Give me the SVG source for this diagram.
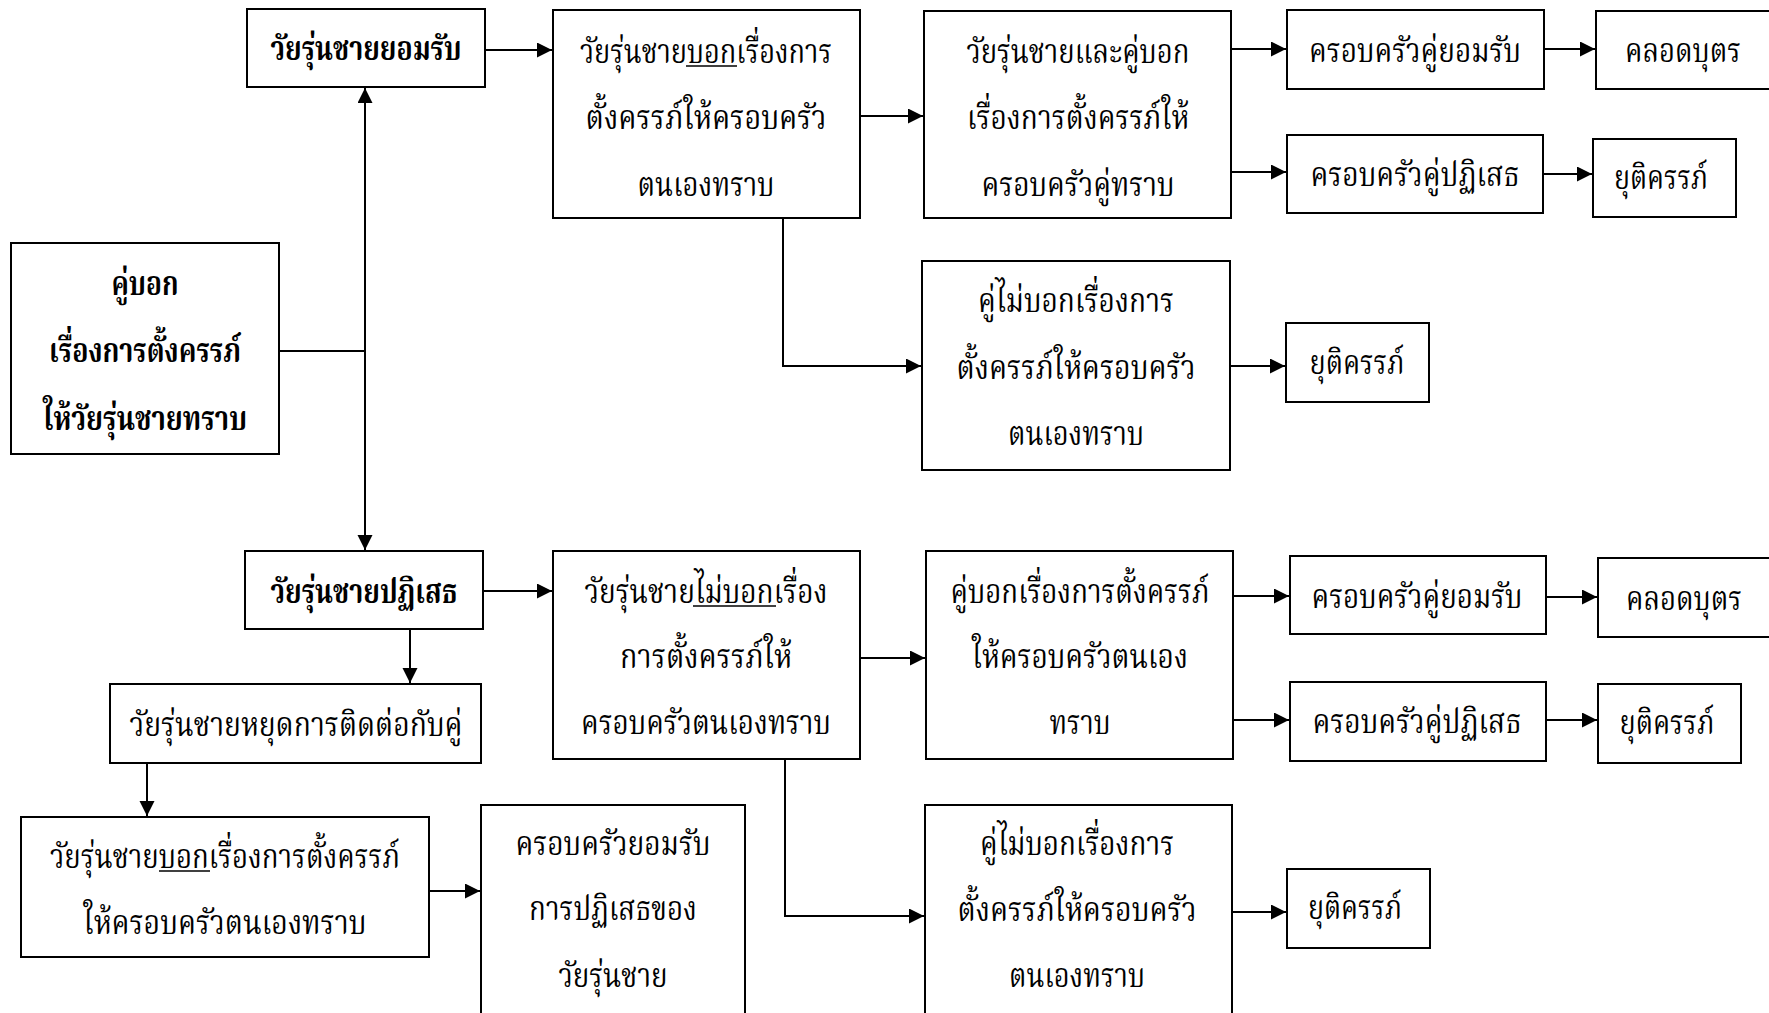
<svg xmlns="http://www.w3.org/2000/svg" width="1769" height="1013" viewBox="0 0 1769 1013">
<defs>
<marker id="ah" markerUnits="userSpaceOnUse" markerWidth="16" markerHeight="16" refX="15" refY="7.5" orient="auto">
<path d="M0,0 L15,7.5 L0,15 z" fill="#000"/>
</marker>
<style>
.b{fill:#fff;stroke:#000;stroke-width:2}
.t{font-family:"Norasi","Noto Serif Thai","Noto Sans Thai","Loma","Garuda","Liberation Serif",serif;font-size:34px;fill:#000;text-anchor:middle}
.bd{font-weight:bold}
.c{fill:none;stroke:#000;stroke-width:2}
.ul{stroke:#000;stroke-width:1.6}
</style>
</defs>
<rect width="1769" height="1013" fill="#fff"/>
<g id="connectors">
<path class="c" d="M279,351 H365"/>
<path class="c" d="M365,351 V88" marker-end="url(#ah)"/>
<path class="c" d="M365,351 V550" marker-end="url(#ah)"/>
<path class="c" d="M485,50 H552" marker-end="url(#ah)"/>
<path class="c" d="M860,116 H923" marker-end="url(#ah)"/>
<path class="c" d="M783,218 V366 H921" marker-end="url(#ah)"/>
<path class="c" d="M1231,49 H1286" marker-end="url(#ah)"/>
<path class="c" d="M1231,172 H1286" marker-end="url(#ah)"/>
<path class="c" d="M1544,49 H1595" marker-end="url(#ah)"/>
<path class="c" d="M1543,174 H1592" marker-end="url(#ah)"/>
<path class="c" d="M1230,366 H1285" marker-end="url(#ah)"/>
<path class="c" d="M483,591 H552" marker-end="url(#ah)"/>
<path class="c" d="M410,629 V683" marker-end="url(#ah)"/>
<path class="c" d="M860,658 H925" marker-end="url(#ah)"/>
<path class="c" d="M785,759 V916 H924" marker-end="url(#ah)"/>
<path class="c" d="M1233,596 H1289" marker-end="url(#ah)"/>
<path class="c" d="M1233,720 H1289" marker-end="url(#ah)"/>
<path class="c" d="M1546,597 H1597" marker-end="url(#ah)"/>
<path class="c" d="M1546,720 H1597" marker-end="url(#ah)"/>
<path class="c" d="M1232,912 H1286" marker-end="url(#ah)"/>
<path class="c" d="M147,763 V816" marker-end="url(#ah)"/>
<path class="c" d="M429,891 H480" marker-end="url(#ah)"/>
</g>
<g id="n0"><rect class="b" x="11" y="243" width="268" height="211"/>
<text class="t bd" x="145" y="295" textLength="67" lengthAdjust="spacingAndGlyphs">คู่บอก</text>
<text class="t bd" x="145" y="362" textLength="192" lengthAdjust="spacingAndGlyphs">เรื่องการตั้งครรภ์</text>
<text class="t bd" x="145" y="430" textLength="204" lengthAdjust="spacingAndGlyphs">ให้วัยรุ่นชายทราบ</text></g>
<g id="n_accept"><rect class="b" x="247" y="9" width="238" height="78"/>
<text class="t bd" x="366" y="60" textLength="191" lengthAdjust="spacingAndGlyphs">วัยรุ่นชายยอมรับ</text></g>
<g id="n_reject"><rect class="b" x="245" y="551" width="238" height="78"/>
<text class="t bd" x="364" y="603" textLength="187" lengthAdjust="spacingAndGlyphs">วัยรุ่นชายปฏิเสธ</text></g>
<g id="n_b1"><rect class="b" x="553" y="10" width="307" height="208"/>
<text class="t" x="706" y="63" textLength="252" lengthAdjust="spacingAndGlyphs">วัยรุ่นชายบอกเรื่องการ</text>
<line class="ul" x1="686" y1="66" x2="737" y2="66"/>
<text class="t" x="706" y="129" textLength="241" lengthAdjust="spacingAndGlyphs">ตั้งครรภ์ให้ครอบครัว</text>
<text class="t" x="706" y="196" textLength="137" lengthAdjust="spacingAndGlyphs">ตนเองทราบ</text></g>
<g id="n_both"><rect class="b" x="924" y="11" width="307" height="207"/>
<text class="t" x="1078" y="63" textLength="223" lengthAdjust="spacingAndGlyphs">วัยรุ่นชายและคู่บอก</text>
<text class="t" x="1078" y="129" textLength="222" lengthAdjust="spacingAndGlyphs">เรื่องการตั้งครรภ์ให้</text>
<text class="t" x="1078" y="196" textLength="193" lengthAdjust="spacingAndGlyphs">ครอบครัวคู่ทราบ</text></g>
<g id="n_fa1"><rect class="b" x="1287" y="10" width="257" height="79"/>
<text class="t" x="1415" y="62" textLength="212" lengthAdjust="spacingAndGlyphs">ครอบครัวคู่ยอมรับ</text></g>
<g id="n_birth1"><rect class="b" x="1596" y="11" width="190" height="78"/>
<text class="t" x="1683" y="62" textLength="116" lengthAdjust="spacingAndGlyphs">คลอดบุตร</text></g>
<g id="n_fr1"><rect class="b" x="1287" y="135" width="256" height="78"/>
<text class="t" x="1415" y="186" textLength="209" lengthAdjust="spacingAndGlyphs">ครอบครัวคู่ปฏิเสธ</text></g>
<g id="n_ab1"><rect class="b" x="1593" y="139" width="143" height="78"/>
<text class="t" x="1661" y="189" textLength="94" lengthAdjust="spacingAndGlyphs">ยุติครรภ์</text></g>
<g id="n_pt1"><rect class="b" x="922" y="261" width="308" height="209"/>
<text class="t" x="1076" y="312" textLength="196" lengthAdjust="spacingAndGlyphs">คู่ไม่บอกเรื่องการ</text>
<text class="t" x="1076" y="379" textLength="239" lengthAdjust="spacingAndGlyphs">ตั้งครรภ์ให้ครอบครัว</text>
<text class="t" x="1076" y="445" textLength="136" lengthAdjust="spacingAndGlyphs">ตนเองทราบ</text></g>
<g id="n_ab1b"><rect class="b" x="1286" y="323" width="143" height="79"/>
<text class="t" x="1357" y="374" textLength="95" lengthAdjust="spacingAndGlyphs">ยุติครรภ์</text></g>
<g id="n_nt"><rect class="b" x="553" y="551" width="307" height="208"/>
<text class="t" x="706" y="603" textLength="243" lengthAdjust="spacingAndGlyphs">วัยรุ่นชายไม่บอกเรื่อง</text>
<line class="ul" x1="693" y1="606" x2="776" y2="606"/>
<text class="t" x="706" y="668" textLength="172" lengthAdjust="spacingAndGlyphs">การตั้งครรภ์ให้</text>
<text class="t" x="706" y="734" textLength="250" lengthAdjust="spacingAndGlyphs">ครอบครัวตนเองทราบ</text></g>
<g id="n_pt2"><rect class="b" x="926" y="551" width="307" height="208"/>
<text class="t" x="1080" y="603" textLength="259" lengthAdjust="spacingAndGlyphs">คู่บอกเรื่องการตั้งครรภ์</text>
<text class="t" x="1080" y="668" textLength="216" lengthAdjust="spacingAndGlyphs">ให้ครอบครัวตนเอง</text>
<text class="t" x="1080" y="734" textLength="61" lengthAdjust="spacingAndGlyphs">ทราบ</text></g>
<g id="n_fa2"><rect class="b" x="1290" y="556" width="256" height="78"/>
<text class="t" x="1417" y="608" textLength="211" lengthAdjust="spacingAndGlyphs">ครอบครัวคู่ยอมรับ</text></g>
<g id="n_birth2"><rect class="b" x="1598" y="558" width="190" height="79"/>
<text class="t" x="1684" y="610" textLength="116" lengthAdjust="spacingAndGlyphs">คลอดบุตร</text></g>
<g id="n_fr2"><rect class="b" x="1290" y="682" width="256" height="79"/>
<text class="t" x="1417" y="733" textLength="209" lengthAdjust="spacingAndGlyphs">ครอบครัวคู่ปฏิเสธ</text></g>
<g id="n_ab2"><rect class="b" x="1598" y="684" width="143" height="79"/>
<text class="t" x="1667" y="734" textLength="95" lengthAdjust="spacingAndGlyphs">ยุติครรภ์</text></g>
<g id="n_pt3"><rect class="b" x="925" y="805" width="307" height="220"/>
<text class="t" x="1077" y="855" textLength="194" lengthAdjust="spacingAndGlyphs">คู่ไม่บอกเรื่องการ</text>
<text class="t" x="1077" y="921" textLength="239" lengthAdjust="spacingAndGlyphs">ตั้งครรภ์ให้ครอบครัว</text>
<text class="t" x="1077" y="987" textLength="136" lengthAdjust="spacingAndGlyphs">ตนเองทราบ</text></g>
<g id="n_ab3"><rect class="b" x="1287" y="869" width="143" height="79"/>
<text class="t" x="1355" y="919" textLength="94" lengthAdjust="spacingAndGlyphs">ยุติครรภ์</text></g>
<g id="n_stop"><rect class="b" x="110" y="684" width="371" height="79"/>
<text class="t" x="296" y="736" textLength="333" lengthAdjust="spacingAndGlyphs">วัยรุ่นชายหยุดการติดต่อกับคู่</text></g>
<g id="n_bt2"><rect class="b" x="21" y="817" width="408" height="140"/>
<text class="t" x="225" y="868" textLength="350" lengthAdjust="spacingAndGlyphs">วัยรุ่นชายบอกเรื่องการตั้งครรภ์</text>
<line class="ul" x1="159" y1="871" x2="210" y2="871"/>
<text class="t" x="225" y="934" textLength="283" lengthAdjust="spacingAndGlyphs">ให้ครอบครัวตนเองทราบ</text></g>
<g id="n_fam"><rect class="b" x="481" y="805" width="264" height="220"/>
<text class="t" x="613" y="855" textLength="195" lengthAdjust="spacingAndGlyphs">ครอบครัวยอมรับ</text>
<text class="t" x="613" y="920" textLength="168" lengthAdjust="spacingAndGlyphs">การปฏิเสธของ</text>
<text class="t" x="613" y="987" textLength="109" lengthAdjust="spacingAndGlyphs">วัยรุ่นชาย</text></g>
</svg>
